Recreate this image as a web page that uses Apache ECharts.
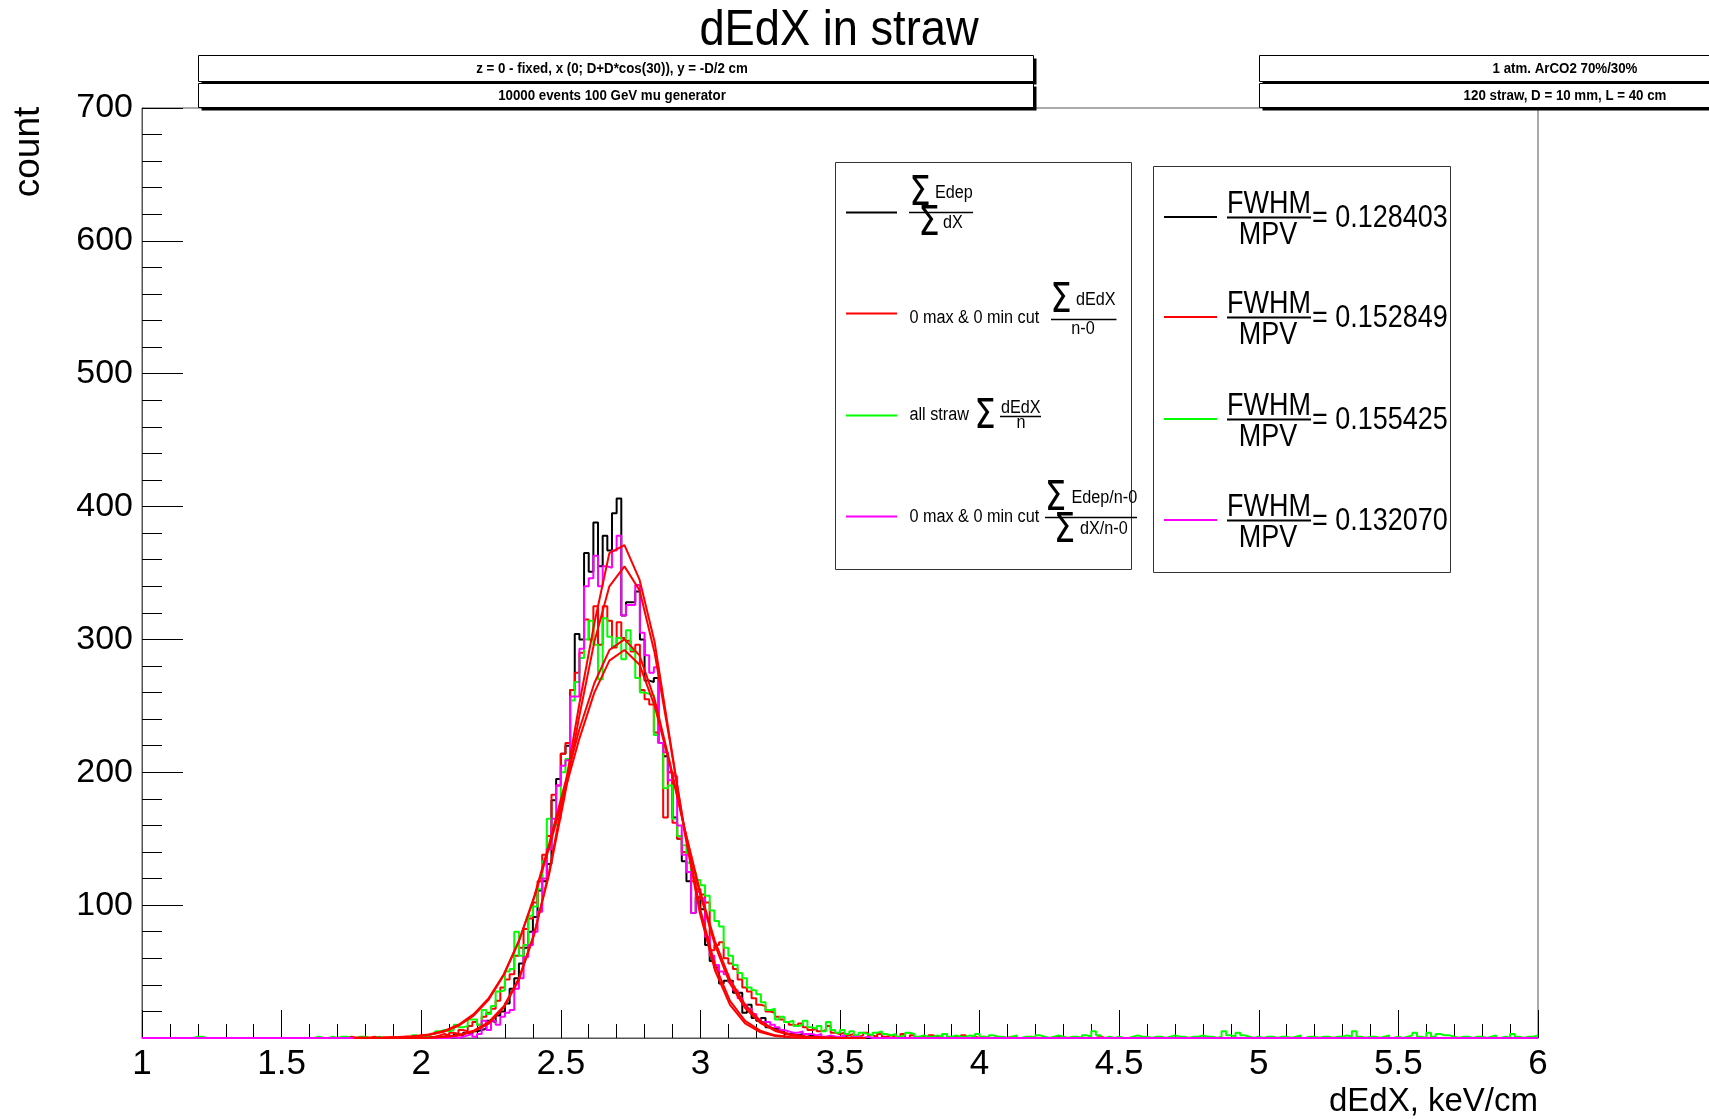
<!DOCTYPE html>
<html><head><meta charset="utf-8">
<script src="https://cdn.jsdelivr.net/npm/echarts@6/dist/echarts.min.js"></script>
<style>html,body{margin:0;padding:0;background:#fff}#c{width:1709px;height:1119px}</style>
</head><body><div id="c"></div>
<script>
// ---------------- data ----------------
const xMin = 1, xMax = 6, nBins = 300;
const coreFirstBin = 60;   // x = 2.0
const tailFirstBin = 160;  // x = 3.6667
const xTicks = [1, 1.5, 2, 2.5, 3, 3.5, 4, 4.5, 5, 5.5, 6];
const yTicks = [100, 200, 300, 400, 500, 600, 700];

// sum Edep / sum dX  (black)
const blackCore = [0,1,0,1,1,2,1,3,2,4, 3,5,6,7,13,12,17,20,26,37, 45,56,68,80,91,111,118,131,179,195,
  214,220,262,304,300,365,351,388,355,378, 367,395,406,318,328,328,336,300,269,268,
  271,222,212,200,166,150,133,118,94,106, 97,70,58,53,41,43,43,34,34,19,
  25,15,13,15,8,7,7,5,3,3, 2,3,1,2,1,1,0,1,1,0, 1,0,1,0,0,0,0,0,0,0];
const blackPre = [];
const blackTail = [];

// 0 max & 0 min cut  sum dEdX/(n-0)  (red)
const redCore = [1,0,1,2,3,2,4,3,6,5, 9,12,10,16,19,22,28,38,44,48, 62,68,82,90,102,118,138,152,183,190,
  214,222,262,275,290,315,300,325,296,325, 314,294,313,301,299,291,296,262,255,251,
  230,222,166,200,162,150,140,138,118,112, 108,102,66,70,72,60,56,52,44,38,
  35,30,25,24,20,19,16,14,12,10, 9,11,8,6,7,5,6,9,4,3, 4,2,3,1,2,4,2,1,3,1];
const redPre = [[44,1],[49,1],[53,1],[57,1],[59,1]];
const redTail = [2,1,0,3,0,2,0,1,0,2, 1,0,3,0,1,0,2,0,1,0, 1,0,0,1,0,0,1,0,0,0, 1,0,0,0,0,0,1,0,0,0,
  0,0,0,0,0,1];

// all straw  sum dEdX/n  (green)
const greenCore = [2,1,3,5,6,5,6,10,8,9, 14,14,10,21,18,24,35,36,50,52, 80,62,70,92,99,112,133,165,160,165,
  200,210,254,268,286,300,314,296,270,316, 302,295,301,285,307,292,271,260,259,258,
  228,222,188,190,165,152,145,132,125,119, 115,107,96,88,84,68,62,55,49,45,
  38,36,33,27,21,22,14,16,12,13, 9,10,13,8,7,9,5,12,6,4, 6,3,5,2,4,3,2,4,5,3];
const greenPre = [[11,1],[12,1],[37,1],[40,1],[42,1],[43,1],[46,1],[47,1],[50,1],[53,1],[56,1],[58,2],[59,1]];
const greenTail = [2,3,1,2,4,3,1,2,1,1, 2,1,3,1,2,1,1,2,1,3,
  1,0,2,1,1,0,1,2,0,1, 1,0,2,1,0,1,2,1,0,1,
  1,0,2,1,5,2,0,1,0,1, 0,0,1,2,1,1,0,1,1,0,
  1,2,1,1,0,1,1,2,1,1, 0,1,5,2,1,4,2,1,0,1,
  0,1,1,0,1,1,0,1,2,0, 1,1,0,1,1,0,1,1,2,1,
  5,1,0,1,1,0,1,2,0,1, 0,1,2,4,1,0,4,1,3,2,
  2,1,0,1,1,0,1,1,0,1, 2,0,1,0,3,1,0,1,1,2];

// 0 max & 0 min cut  sum(Edep/n-0)/sum(dX/n-0)  (magenta)
const magentaCore = [0,0,0,0,0,0,1,0,1,2, 3,1,3,13,6,13,10,16,19,21, 37,45,61,70,80,95,120,142,165,190,
  205,209,257,257,293,340,346,363,340,355, 354,367,378,318,326,326,341,305,288,275,
  279,222,215,194,197,160,138,125,94,110, 105,76,62,55,50,48,42,36,30,25,
  22,18,14,12,12,10,8,6,5,4, 4,5,3,3,2,3,1,2,1,1, 2,0,1,1,0,1,0,0,0,0];
const magentaPre = [];
const magentaTail = [];

// fitted curves (all drawn red)
const fitX = [1.756,1.81,1.864,1.918,1.972,2.026,2.08,2.134,2.188,2.242,2.296,2.35,2.404,2.458,2.512,
  2.566,2.62,2.674,2.728,2.782,2.836,2.89,2.944,2.998,3.052,3.106,3.16,3.214,3.268,3.322,3.376,3.43,3.484,3.538,3.592];
const fitBlack = [0,0,0,0,0,0.2,0.7,1.9,4.8,10.9,22.9,43.9,77.4,125,185,251,312,365,371,345,298,226,154,94,51,25,11,4.4,1.5,0.5,0.2,0.1,0,0,0];
const fitMagenta = [0,0,0,0,0,0.3,0.9,2.3,5.5,12,24,45,78,123,180,242,298,340,355,337,290,224,156,98,55,28,13,5.5,2,0.7,0.2,0.1,0,0,0];
const fitRed = [0.1,0.2,0.3,0.6,1.1,2.3,4.7,9.2,16.8,29,47.5,73,106,146,189,232,267,292,300,288,255,208,157,109,70,41,22.6,11.4,5.3,2.3,0.9,0.3,0.1,0,0];
const fitGreen = [0.1,0.2,0.4,0.7,1.3,2.6,5.2,10,18,30,48,73,105,143,184,225,260,284,292,281,250,206,157,111,73,44,25,13,6,2.8,1.2,0.4,0.1,0,0];

const ratioValues = ['0.128403', '0.152849', '0.155425', '0.132070'];
const seriesColors = ['#000000', '#ff0000', '#00ff00', '#ff00ff'];

// ---------------- build ----------------
const binW = (xMax - xMin) / nBins;
function buildHist(core, pre, tail) {
  const arr = new Array(nBins).fill(0);
  core.forEach((v, i) => { arr[coreFirstBin + i] = v; });
  pre.forEach(([k, v]) => { arr[k] = v; });
  tail.forEach((v, i) => { arr[tailFirstBin + i] = v; });
  const pts = arr.map((v, k) => [xMin + k * binW, v]);
  pts.push([xMax, arr[nBins - 1]]);
  return pts;
}
const hists = [
  buildHist(blackCore, blackPre, blackTail),
  buildHist(redCore, redPre, redTail),
  buildHist(greenCore, greenPre, greenTail),
  buildHist(magentaCore, magentaPre, magentaTail)
];
const fits = [fitBlack, fitRed, fitGreen, fitMagenta].map(f => f.map((v, i) => [fitX[i], v]));

const FONT = '"Liberation Sans", Arial, Helvetica, sans-serif';
function txt(x, y, s, size, o = {}) {
  return { type: 'text', x, y, scaleX: o.sx == null ? 0.9 : o.sx, rotation: o.rot || 0, z: 100, silent: true,
    style: { text: s, fontSize: size, fontFamily: o.font || FONT, fontWeight: o.bold ? 'bold' : 'normal', fill: '#000',
      align: o.align || 'left', verticalAlign: 'middle', textAlign: o.align || 'left', textVerticalAlign: 'middle' } };
}
function ln(x1, y1, x2, y2, color, w) {
  return { type: 'line', z: 100, silent: true, shape: { x1, y1, x2, y2 }, style: { stroke: color, lineWidth: w } };
}
function rect(x, y, w, h, fill, stroke) {
  return { type: 'rect', z: 100, silent: true, shape: { x, y, width: w, height: h },
    style: { fill, stroke: stroke || null, lineWidth: stroke ? 1 : 0 } };
}
function pave(x, y, w, h, label, tx) {
  return [rect(x + 3, y + 3, w, h, '#000'), rect(x, y, w, h, '#fff', '#000'),
    txt(tx, y + h / 2 + 0.5, label, 14, { bold: true, align: 'center', sx: 0.95 })];
}
const SIG = 'Σ';
function sig(x, y) { return txt(x, y, SIG, 40, { align: 'center', sx: 0.85, font: '"DejaVu Sans", sans-serif' }); }

const g = [];
// title & axis titles
g.push(txt(839, 31, 'dEdX in straw', 50, { align: 'center', sx: 0.905 }));
g.push(txt(1538, 1102, 'dEdX, keV/cm', 33, { align: 'right', sx: 1 }));
g.push(txt(29, 152, 'count', 37, { align: 'center', sx: 1, rot: Math.PI / 2 }));
// header paves
g.push(...pave(198.5, 55.5, 835, 26, 'z = 0 - fixed, x (0; D+D*cos(30)), y = -D/2 cm', 612));
g.push(...pave(198.5, 83.5, 835, 24, '10000 events 100 GeV mu generator', 612));
g.push(...pave(1259.5, 55.5, 612, 26, '1 atm. ArCO2 70%/30%', 1565));
g.push(...pave(1259.5, 83.5, 612, 24, '120 straw, D = 10 mm, L = 40 cm', 1565));
// left legend
g.push(rect(835.5, 162.5, 296, 407, '#fff', '#333'));
g.push(ln(846, 212.5, 897, 212.5, seriesColors[0], 2));
g.push(sig(920, 195), txt(935, 193.5, 'Edep', 18), ln(909, 212.5, 973, 212.5, '#000', 1.5),
  sig(929, 225), txt(943, 223.5, 'dX', 18));
g.push(ln(846, 313.5, 897, 313.5, seriesColors[1], 2));
g.push(txt(909.5, 318.5, '0 max & 0 min cut', 18), sig(1061, 301.5), txt(1076, 300, 'dEdX', 18),
  ln(1051, 319.5, 1116.5, 319.5, '#000', 1.5), txt(1083, 329, 'n-0', 18, { align: 'center' }));
g.push(ln(846, 415.5, 897, 415.5, seriesColors[2], 2));
g.push(txt(909.5, 415, 'all straw', 18), sig(985, 418), txt(1001, 408.5, 'dEdX', 18),
  ln(1000, 416.5, 1041, 416.5, '#000', 1.5), txt(1021, 423, 'n', 18, { align: 'center' }));
g.push(ln(846, 516.5, 897, 516.5, seriesColors[3], 2));
g.push(txt(909.5, 516.7, '0 max & 0 min cut', 18), sig(1055.5, 499.5), txt(1071.5, 498.5, 'Edep/n-0', 18),
  ln(1045, 517.5, 1137, 517.5, '#000', 1.5), sig(1064.5, 532), txt(1080, 529, 'dX/n-0', 18));
// right legend
g.push(rect(1153.5, 166.5, 297, 406, '#fff', '#333'));
[217.5, 317.5, 419.5, 520.5].forEach((b, i) => {
  g.push(ln(1164, b - 0.5, 1217, b - 0.5, seriesColors[i], 2));
  g.push(txt(1269, b - 13, 'FWHM', 31, { align: 'center', sx: 0.87 }));
  g.push(ln(1227, b, 1311, b, '#000', 2));
  g.push(txt(1268, b + 17.5, 'MPV', 31, { align: 'center', sx: 0.87 }));
  g.push(txt(1312, b + 1, '= ' + ratioValues[i], 31, { sx: 0.87 }));
});

const series = [];
hists.forEach((d, i) => series.push({ type: 'line', data: d, step: 'end', showSymbol: false, symbol: 'none',
  lineStyle: { color: seriesColors[i], width: 2 }, itemStyle: { color: seriesColors[i] }, z: 2 + i, silent: true }));
fits.forEach((d) => series.push({ type: 'line', data: d, showSymbol: false, symbol: 'none', smooth: false,
  lineStyle: { color: '#ff0000', width: 2 }, z: 10, silent: true }));

const chart = echarts.init(document.getElementById('c'), null, { renderer: 'canvas' });
chart.setOption({
  animation: false,
  backgroundColor: '#fff',
  grid: { left: 142, right: 171, top: 108, bottom: 81, show: true, borderColor: '#555', borderWidth: 1,
    backgroundColor: 'transparent', containLabel: false, outerBoundsMode: 'none' },
  xAxis: { type: 'value', min: xMin, max: xMax, interval: 0.5,
    axisLine: { show: true, onZero: false, lineStyle: { color: '#555', width: 1 } },
    axisTick: { show: true, inside: true, length: 28, lineStyle: { color: '#000', width: 1 } },
    minorTick: { show: true, splitNumber: 5, length: 14, lineStyle: { color: '#000', width: 1 } },
    splitLine: { show: false }, minorSplitLine: { show: false },
    axisLabel: { show: true, margin: 9, fontSize: 35, fontFamily: FONT, color: '#000', showMinLabel: true, showMaxLabel: true,
      formatter: v => (xTicks.includes(+v.toFixed(2)) ? String(+v.toFixed(2)) : '') } },
  yAxis: { type: 'value', min: 0, max: 700, interval: 100,
    axisLine: { show: true, onZero: false, lineStyle: { color: '#555', width: 1 } },
    axisTick: { show: true, inside: true, length: 41, lineStyle: { color: '#000', width: 1 } },
    minorTick: { show: true, splitNumber: 5, length: 20, lineStyle: { color: '#000', width: 1 } },
    splitLine: { show: false }, minorSplitLine: { show: false },
    axisLabel: { show: true, margin: 9, fontSize: 34, fontFamily: FONT, color: '#000', showMinLabel: true, showMaxLabel: true,
      formatter: v => (yTicks.includes(v) ? String(v) : '') } },
  series,
  graphic: { elements: g }
});
</script>
</body></html>
